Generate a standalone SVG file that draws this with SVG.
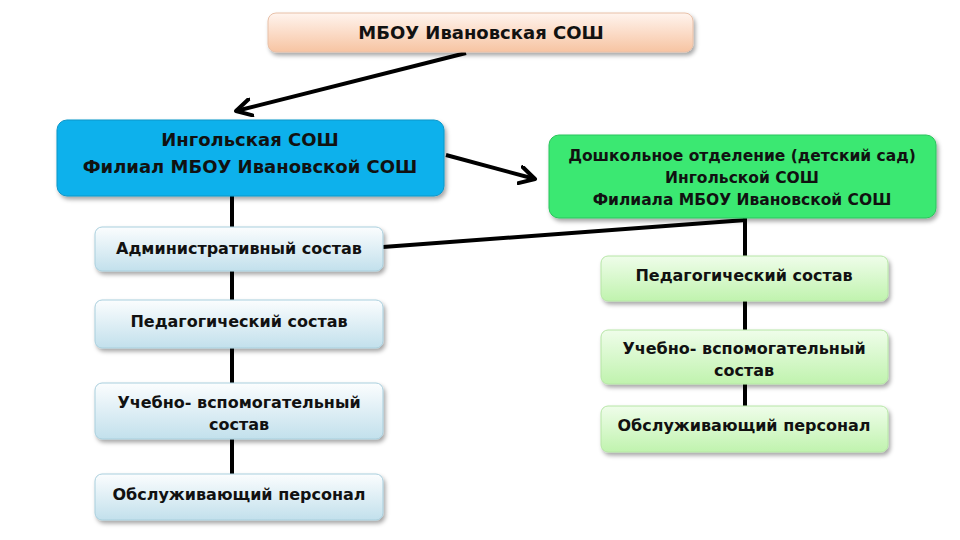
<svg xmlns="http://www.w3.org/2000/svg" width="960" height="540" viewBox="0 0 960 540">
<defs>
<linearGradient id="gPeach" x1="0" y1="0" x2="0" y2="1">
<stop offset="0" stop-color="#fff4ee"/><stop offset="1" stop-color="#f7c4a2"/>
</linearGradient>
<linearGradient id="gBlueL" x1="0" y1="0" x2="0" y2="1">
<stop offset="0" stop-color="#fbfdfe"/><stop offset="1" stop-color="#c2e0ec"/>
</linearGradient>
<linearGradient id="gGreenL" x1="0" y1="0" x2="0" y2="1">
<stop offset="0" stop-color="#effdea"/><stop offset="1" stop-color="#c0f3ae"/>
</linearGradient>
<filter id="sh" x="-10%" y="-20%" width="120%" height="150%">
<feDropShadow dx="2" dy="3" stdDeviation="2" flood-color="#000" flood-opacity="0.35"/>
</filter>
<marker id="ah" viewBox="0 0 12 12" refX="10" refY="6" markerWidth="5" markerHeight="5" orient="auto" markerUnits="strokeWidth">
<path d="M1,1 L10,6 L1,11" fill="none" stroke="#000" stroke-width="2.4" stroke-linecap="round" stroke-linejoin="round"/>
</marker>
</defs>
<style>
text{font-family:"DejaVu Sans","Liberation Sans",sans-serif;font-weight:bold;fill:#111;text-anchor:middle}
.t18{font-size:18px}
.t15{font-size:15.5px}
.t16{font-size:16px}
.ln{stroke:#000;stroke-width:4;fill:none}
.lb{fill:url(#gBlueL);stroke:#a9cfdd;stroke-width:1}
.lg{fill:url(#gGreenL);stroke:#b6e6a6;stroke-width:1}
</style>
<rect width="960" height="540" fill="#fff"/>
<g id="connectors">
<line class="ln" x1="232" y1="196" x2="232" y2="478"/>
<line class="ln" x1="745" y1="216" x2="745" y2="410"/>
<line class="ln" x1="383" y1="247" x2="746" y2="220"/>
<line class="ln" x1="466" y1="53" x2="236" y2="111" marker-end="url(#ah)"/>
<line class="ln" x1="446" y1="155" x2="535" y2="179" marker-end="url(#ah)"/>
</g>
<g id="n-top">
<rect x="268" y="13" width="425" height="39" rx="8" fill="url(#gPeach)" stroke="#e8c0a8" filter="url(#sh)"/>
<text class="t18" x="481" y="39">МБОУ Ивановская СОШ</text>
</g>
<g id="n-ingol">
<rect x="57" y="120" width="387" height="76" rx="10" fill="#0cb1ec" stroke="#0a96c8" filter="url(#sh)"/>
<text class="t18" x="250" y="146">Ингольская СОШ</text>
<text class="t18" x="250" y="173">Филиал МБОУ Ивановской СОШ</text>
</g>
<g id="n-dou">
<rect x="549" y="135" width="387" height="83" rx="10" fill="#3be872" stroke="#2cc45c" filter="url(#sh)"/>
<text class="t15" x="742" y="161">Дошкольное отделение (детский сад)</text>
<text class="t15" x="742" y="183">Ингольской СОШ</text>
<text class="t15" x="742" y="205">Филиала МБОУ Ивановской СОШ</text>
</g>
<g id="n-adm">
<rect x="95" y="227" width="288" height="44" rx="7" class="lb" filter="url(#sh)"/>
<text class="t16" x="239" y="254">Административный состав</text>
</g>
<g id="n-ped-l">
<rect x="95" y="300" width="288" height="48" rx="7" class="lb" filter="url(#sh)"/>
<text class="t16" x="239" y="327">Педагогический состав</text>
</g>
<g id="n-ucheb-l">
<rect x="95" y="383" width="288" height="56" rx="7" class="lb" filter="url(#sh)"/>
<text class="t16" x="239" y="408">Учебно- вспомогательный</text>
<text class="t16" x="239" y="430">состав</text>
</g>
<g id="n-obs-l">
<rect x="95" y="474" width="288" height="46" rx="7" class="lb" filter="url(#sh)"/>
<text class="t16" x="239" y="500">Обслуживающий персонал</text>
</g>
<g id="n-ped-r">
<rect x="601" y="256" width="287" height="45" rx="7" class="lg" filter="url(#sh)"/>
<text class="t16" x="744" y="281">Педагогический состав</text>
</g>
<g id="n-ucheb-r">
<rect x="601" y="330" width="287" height="54" rx="7" class="lg" filter="url(#sh)"/>
<text class="t16" x="744" y="354">Учебно- вспомогательный</text>
<text class="t16" x="744" y="376">состав</text>
</g>
<g id="n-obs-r">
<rect x="601" y="406" width="287" height="46" rx="7" class="lg" filter="url(#sh)"/>
<text class="t16" x="744" y="431">Обслуживающий персонал</text>
</g>
</svg>
